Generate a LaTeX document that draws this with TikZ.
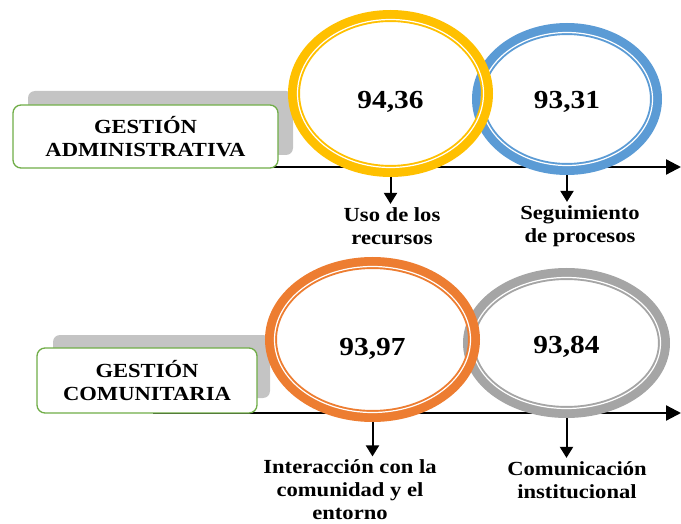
\documentclass[tikz,border=0pt]{standalone}
\usepackage{fontspec}
\setmainfont{Liberation Serif}[FakeStretch=1.13]
\usetikzlibrary{arrows.meta,shapes.geometric}

\definecolor{ringyellow}{HTML}{FFC000}
\definecolor{ringblue}{HTML}{5B9BD5}
\definecolor{ringorange}{HTML}{ED7D31}
\definecolor{ringgray}{HTML}{A5A5A5}
\definecolor{boxgreen}{HTML}{70AD47}
\definecolor{shadowgray}{HTML}{C4C4C4}

\tikzset{
  shadowbox/.style={fill=shadowgray,rounded corners=7pt},
  gestbox/.style={draw=boxgreen,line width=1.3pt,fill=white,rounded corners=8pt,align=center,inner sep=0pt,font=\bfseries\fontsize{20}{23}\selectfont},
  ring/.style={ellipse,draw=#1,line width=12pt,inner sep=0pt,font=\bfseries\fontsize{26}{30}\selectfont},
  ringline/.style={white,line width=1.2pt},
  axis/.style={line width=2.3pt,-{Triangle[length=15pt,width=15pt]}},
  pointer/.style={line width=2pt,-{Triangle[length=11pt,width=13pt]}},
  lbl/.style={align=center,font=\bfseries\fontsize{20}{23}\selectfont}
}

\begin{document}
\begin{tikzpicture}[x=1pt,y=-1pt]
  \useasboundingbox (0,0) rectangle (681,524);
  % gestion administrativa
  \fill[shadowbox] (28,91) rectangle (293,155);
  \coordinate (a0) at (213,167);
  \coordinate (a1) at (681,167);
  \draw[axis] (a0) -- (a1);
  \node[gestbox,minimum width=265pt,minimum height=63pt] (adm) at (145.5,136.5) {GESTIÓN\\ADMINISTRATIVA};
  \node[ring=ringblue,minimum width=178pt,minimum height=140pt,text height=23.7pt] (seg) at (567,99) {93,31};
  \draw[ringline] (seg.center) ellipse (85.5 and 66.5);
  \node[ring=ringyellow,minimum width=193pt,minimum height=155pt,text height=34.7pt] (uso) at (390.5,93.5) {94,36};
  \draw[ringline] (uso.center) ellipse (93 and 74);
  \node[lbl] (usolbl) at (392,226) {Uso de los\\recursos};
  \node[lbl] (seglbl) at (580,226) {Seguimiento\\de procesos};
  \draw[pointer] (uso.south) -- (uso.south |- usolbl.north);
  \draw[pointer] (seg.south) -- (seg.south |- seglbl.north);

  % gestion comunitaria
  \fill[shadowbox] (53,335) rectangle (270,398);
  \coordinate (b0) at (153,413);
  \coordinate (b1) at (681,413);
  \draw[axis] (b0) -- (b1);
  \node[gestbox,minimum width=220pt,minimum height=65pt] (com) at (147,380.5) {GESTIÓN\\COMUNITARIA};
  \node[ring=ringgray,minimum width=195pt,minimum height=138pt,text height=24.7pt] (inst) at (566.5,343) {93,84};
  \draw[ringline] (inst.center) ellipse (94 and 65.5);
  \node[ring=ringorange,minimum width=203pt,minimum height=153pt,text height=35.7pt] (inter) at (372.5,339.5) {93,97};
  \draw[ringline] (inter.center) ellipse (98 and 73);
  \node[lbl] (interlbl) at (350,490) {Interacción con la\\comunidad y el\\entorno};
  \node[lbl] (instlbl) at (577,480) {Comunicación\\institucional};
  \draw[pointer] (inter.south) -- (inter.south |- interlbl.north);
  \draw[pointer] (inst.south) -- (inst.south |- instlbl.north);
\end{tikzpicture}
\end{document}
